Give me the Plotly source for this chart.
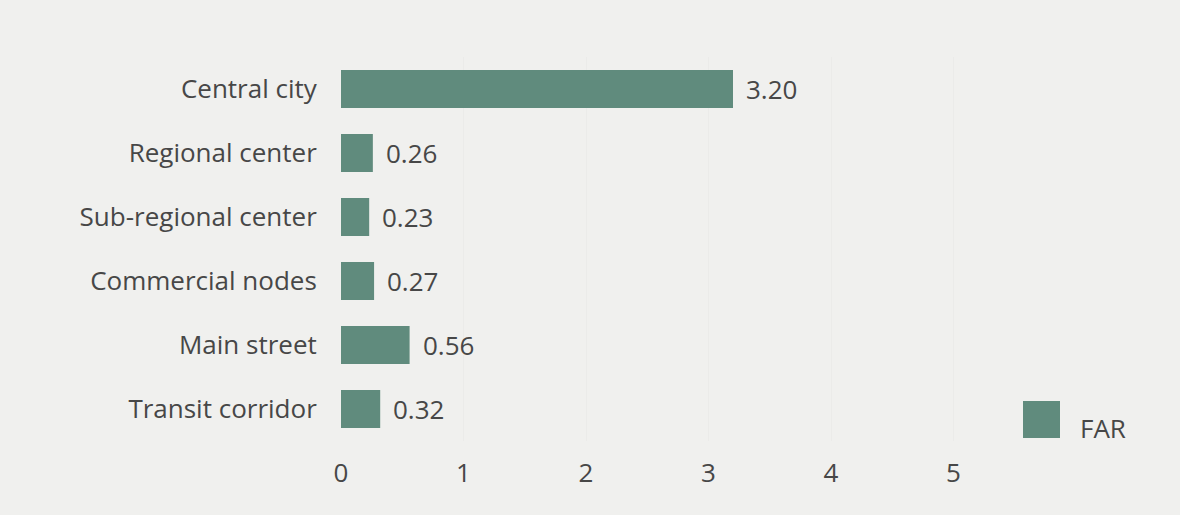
import plotly.graph_objects as go

categories = ["Central city", "Regional center", "Sub-regional center",
              "Commercial nodes", "Main street", "Transit corridor"]
far_values = [3.20, 0.26, 0.23, 0.27, 0.56, 0.32]
value_labels = ["3.20", "0.26", "0.23", "0.27", "0.56", "0.32"]
x_ticks = [0, 1, 2, 3, 4, 5]
series_name = "FAR"

BAR = "#608b7d"
BG = "#f0f0ee"
TXT = "#474747"
FONT = "Open Sans"
FS = 26

W, H = 1180, 515
L, R, T, B = 341, 104, 57, 74
pw, ph = W - L - R, H - T - B

fig = go.Figure()
fig.add_trace(go.Bar(
    y=categories, x=far_values, orientation="h",
    marker=dict(color=BAR, line=dict(width=0)),
    name=series_name, showlegend=False, hoverinfo="x+y",
))

for c, v, lab in zip(categories, far_values, value_labels):
    fig.add_annotation(x=v, y=c, xref="x", yref="y", text=lab, showarrow=False,
                       xanchor="left", yanchor="middle", xshift=11,
                       font=dict(family=FONT, size=FS, color=TXT))

# manual legend
def px_x(p):
    return (p - L) / pw

def px_y(p):
    return (H - B - p) / ph

fig.add_shape(type="rect", xref="paper", yref="paper",
              x0=px_x(1023), x1=px_x(1060), y0=px_y(438), y1=px_y(401),
              fillcolor=BAR, line=dict(width=0))
fig.add_annotation(xref="paper", yref="paper", x=px_x(1078), y=px_y(428),
                   text=series_name, showarrow=False, xanchor="left", yanchor="middle",
                   font=dict(family=FONT, size=FS, color=TXT))

fig.update_layout(
    width=W, height=H,
    margin=dict(l=L, r=R, t=T, b=B, pad=0),
    paper_bgcolor=BG, plot_bgcolor=BG,
    bargap=0.41,
    font=dict(family=FONT, size=FS, color=TXT),
    showlegend=False,
)
fig.update_xaxes(range=[0, 6], tickvals=x_ticks, ticktext=[str(t) for t in x_ticks],
                 showgrid=True, gridcolor="#ebebe9", gridwidth=1,
                 zeroline=False, showline=False,
                 ticks="outside", ticklen=9, tickcolor="rgba(0,0,0,0)",
                 tickfont=dict(family=FONT, size=FS, color=TXT))
fig.update_yaxes(categoryorder="array", categoryarray=categories, autorange="reversed",
                 showgrid=False, zeroline=False, showline=False,
                 ticks="outside", ticklen=18, tickcolor="rgba(0,0,0,0)",
                 tickfont=dict(family=FONT, size=FS, color=TXT))

fig.write_html(
    "out.html",
    config={"displayModeBar": False},
    post_script="document.body.style.margin='0';document.body.style.padding='0';"
                "document.body.style.background='#f0f0ee';",
)
